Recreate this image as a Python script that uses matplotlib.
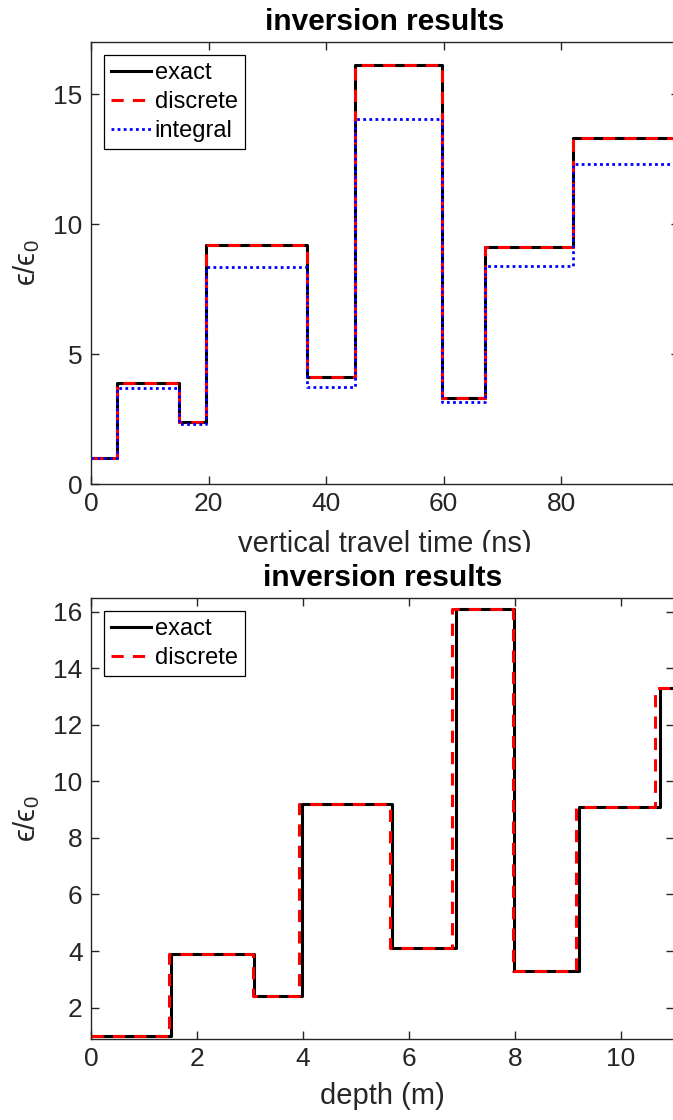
import matplotlib
matplotlib.use("Agg")
import matplotlib.pyplot as plt
from matplotlib.patches import Rectangle

# ---- data ----
time_interfaces = [4.5, 14.9, 19.6, 36.8, 44.9, 59.7, 67.1, 82.1]
eps_exact = [1.0, 3.9, 2.4, 9.2, 4.1, 16.1, 3.3, 9.1, 13.3]
eps_discrete_time = [1.0, 3.9, 2.4, 9.2, 4.1, 16.1, 3.3, 9.1, 13.3]
eps_integral = [1.0, 3.7, 2.3, 8.35, 3.75, 14.05, 3.15, 8.4, 12.3]

depth_exact = [1.50, 3.08, 3.99, 5.68, 6.89, 7.98, 9.21, 10.74]
depth_discrete = [1.48, 3.05, 3.93, 5.65, 6.82, 7.96, 9.16, 10.65]
eps_discrete_depth = [1.0, 3.9, 2.4, 9.2, 4.1, 16.1, 3.3, 9.1, 13.3]

time_ticks = [0, 20, 40, 60, 80]
eps_ticks_top = [0, 5, 10, 15]
depth_ticks = [0, 2, 4, 6, 8, 10]
eps_ticks_bottom = [2, 4, 6, 8, 10, 12, 14, 16]

plt.rcParams['font.family'] = ['Liberation Sans', 'DejaVu Sans']
plt.rcParams['mathtext.fontset'] = 'custom'
plt.rcParams['mathtext.rm'] = 'Liberation Sans'

W, H = 673, 1120
fig = plt.figure(figsize=(W / 100, H / 100), dpi=100)

axc = '#262626'
ylab = 'ϵ/ϵ$_{\\mathrm{0}}$'


def edges(interfaces, xmax):
    return [0.0] + list(interfaces) + [xmax]


def vals(v):
    return list(v) + [v[-1]]


def style(ax):
    for s in ax.spines.values():
        s.set_color(axc)
        s.set_linewidth(1.0)
    ax.tick_params(direction='in', length=6, width=1.0, colors=axc,
                   labelsize=19, top=True, right=True, pad=6)


def legend(ax):
    leg = ax.legend(loc='upper left', fontsize=17, frameon=True, fancybox=False,
                    edgecolor='black', framealpha=1, handlelength=1.7,
                    handletextpad=0.15, labelspacing=0.3, borderpad=0.3,
                    borderaxespad=0.55)
    leg.get_frame().set_linewidth(0.9)
    for t in leg.get_texts():
        t.set_color('black')
    return leg


# ---- top axes ----
tmax = 100
ax1 = fig.add_axes([91 / W, 636 / H, (tmax * 5.875) / W, 442 / H])
ax1.step(edges(time_interfaces, tmax), vals(eps_exact), where='post',
         color='black', lw=2.2, label='exact')
ax1.step(edges(time_interfaces, tmax), vals(eps_discrete_time), where='post',
         color='red', lw=2.2, ls=(0, (4, 3)), label='discrete')
ax1.step(edges(time_interfaces, tmax), vals(eps_integral), where='post',
         color='blue', lw=2.0, ls=(0, (1, 1.2)), label='integral')
ax1.set_xlim(0, tmax)
ax1.set_ylim(0, 17)
ax1.set_xticks(time_ticks)
ax1.set_yticks(eps_ticks_top)
style(ax1)
ax1.set_title('inversion results', fontsize=21.5, fontweight='bold', pad=9)
ax1.set_xlabel('vertical travel time (ns)', fontsize=21, color=axc, labelpad=10)
ax1.set_ylabel(ylab, fontsize=21, color=axc, labelpad=8)
legend(ax1)

# ---- bottom axes ----
dmax = 11
ax2 = fig.add_axes([91 / W, 81 / H, (dmax * 53) / W, 441 / H])
ax2.step(edges(depth_exact, dmax), vals(eps_exact), where='post',
         color='black', lw=2.2, label='exact')
ax2.step(edges(depth_discrete, dmax), vals(eps_discrete_depth), where='post',
         color='red', lw=2.2, ls=(0, (4, 3)), label='discrete')
ax2.set_xlim(0, dmax)
ax2.set_ylim(0.89, 16.48)
ax2.set_xticks(depth_ticks)
ax2.set_yticks(eps_ticks_bottom)
style(ax2)
ax2.set_title('inversion results', fontsize=21.5, fontweight='bold', pad=9)
ax2.set_xlabel('depth (m)', fontsize=21, color=axc, labelpad=8)
ax2.set_ylabel(ylab, fontsize=21, color=axc, labelpad=8)
legend(ax2)

# white band cropping the top x-label, as in the stacked reference
fig.patches.append(Rectangle((0, (H - 562) / H), 1, 10.5 / H,
                             transform=fig.transFigure, facecolor='white',
                             edgecolor='none', zorder=5))

fig.savefig('out.png', dpi=100, facecolor='white')
